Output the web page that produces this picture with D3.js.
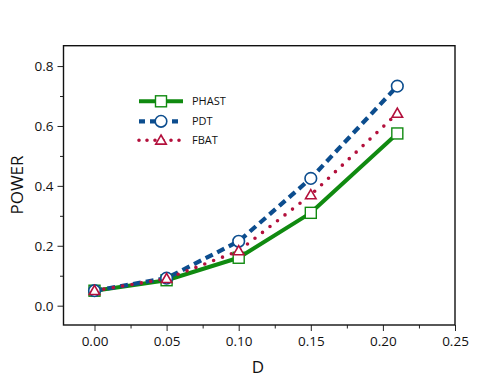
<!DOCTYPE html>
<html><head><meta charset="utf-8">
<script src="https://cdn.jsdelivr.net/npm/d3@7"></script>
<style>body{margin:0;background:#fff}svg{display:block}text{font-family:"Open Sans","Noto Sans",sans-serif}</style>
</head><body>
<script>
const xValues = [0.00, 0.05, 0.10, 0.15, 0.21];
const phast = [0.05, 0.085, 0.16, 0.31, 0.575];
const pdt = [0.05, 0.092, 0.215, 0.425, 0.733];
const fbat = [0.05, 0.09, 0.183, 0.37, 0.642];
const seriesNames = ["PHAST", "PDT", "FBAT"];
const xTicks = [0.00, 0.05, 0.10, 0.15, 0.20, 0.25];
const yTicks = [0.0, 0.2, 0.4, 0.6, 0.8];
const xMinor = [0.025, 0.075, 0.125, 0.175, 0.225];
const yMinor = [0.1, 0.3, 0.5, 0.7];

const W = 500, H = 386;
const L = 63.5, R = 455, T = 45.7, B = 325;
const svg = d3.select("body").append("svg").attr("width", W).attr("height", H);
const x = d3.scaleLinear().domain([-0.0215, 0.25]).range([L, R]);
const y = d3.scaleLinear().domain([-0.0645, 0.868]).range([B, T]);

const colors = {PHAST: "#108a10", PDT: "#0c4d8e", FBAT: "#b3103c"};

// axes
const yAxis = svg.append("g").attr("transform", `translate(${L},0)`)
  .call(d3.axisLeft(y).tickValues(yTicks).tickFormat(d3.format(".1f")).tickSize(6).tickPadding(4));
const yAxisMinor = svg.append("g").attr("transform", `translate(${L},0)`)
  .call(d3.axisLeft(y).tickValues(yMinor).tickFormat("").tickSize(3.5));
const xAxis = svg.append("g").attr("transform", `translate(0,${B})`)
  .call(d3.axisBottom(x).tickValues(xTicks).tickFormat(d3.format(".2f")).tickSize(6).tickPadding(5));
const xAxisMinor = svg.append("g").attr("transform", `translate(0,${B})`)
  .call(d3.axisBottom(x).tickValues(xMinor).tickFormat("").tickSize(3.5));
[yAxis, yAxisMinor, xAxis, xAxisMinor].forEach(g => {
  g.select(".domain").remove();
  g.selectAll("line").attr("stroke", "#222").attr("stroke-width", 1);
  g.selectAll("text").attr("font-size", 13.5).attr("fill", "#111")
   .style("font-family", '"Open Sans","Noto Sans",sans-serif');
});

// frame
svg.append("rect").attr("x", L).attr("y", T).attr("width", R - L).attr("height", B - T)
  .attr("fill", "none").attr("stroke", "#111").attr("stroke-width", 1.4);

// axis labels
svg.append("text").attr("x", 258).attr("y", 373).attr("text-anchor", "middle")
  .attr("font-size", 17).attr("fill", "#111").text("D");
svg.append("text").attr("transform", "translate(23,185) rotate(-90)").attr("text-anchor", "middle")
  .attr("font-size", 17).attr("fill", "#111").text("POWER");

const line = d3.line().x((d, i) => x(xValues[i])).y(d => y(d));
const data = {PHAST: phast, PDT: pdt, FBAT: fbat};
const styles = {
  PHAST: {w: 4, dash: null, cap: "butt"},
  PDT: {w: 4.2, dash: "8,5", cap: "butt"},
  FBAT: {w: 3.6, dash: "0,9.5", cap: "round"}
};

function marker(g, name, cx, cy) {
  const c = colors[name];
  if (name === "PHAST") {
    g.append("rect").attr("x", cx - 5.5).attr("y", cy - 5.5).attr("width", 11).attr("height", 11)
      .attr("fill", "#fff").attr("stroke", c).attr("stroke-width", 1.4);
  } else if (name === "PDT") {
    g.append("circle").attr("cx", cx).attr("cy", cy).attr("r", 5.8)
      .attr("fill", "#fff").attr("stroke", c).attr("stroke-width", 1.6);
  } else {
    const tri = d3.symbol().type(d3.symbolTriangle).size(48);
    g.append("path").attr("d", tri()).attr("transform", `translate(${cx},${cy + 0.8})`)
      .attr("fill", "#fff").attr("stroke", c).attr("stroke-width", 1.6);
  }
}

// draw order: lines, then markers
["PHAST", "PDT", "FBAT"].forEach(n => {
  const s = styles[n];
  svg.append("path").datum(data[n]).attr("d", line).attr("fill", "none")
    .attr("stroke", colors[n]).attr("stroke-width", s.w)
    .attr("stroke-dasharray", s.dash).attr("stroke-linecap", s.cap).attr("stroke-linejoin", "round");
});
["PHAST", "PDT", "FBAT"].forEach(n => {
  const g = svg.append("g");
  data[n].forEach((v, i) => marker(g, n, x(xValues[i]), y(v)));
});

// legend
const legY = [101.3, 121.3, 140.3];
seriesNames.forEach((n, i) => {
  const s = styles[n];
  const g = svg.append("g");
  g.append("line").attr("x1", 139).attr("x2", 183).attr("y1", legY[i]).attr("y2", legY[i])
    .attr("stroke", colors[n]).attr("stroke-width", s.w)
    .attr("stroke-dasharray", n === "PDT" ? "6,5" : (n === "FBAT" ? "0,8" : null))
    .attr("stroke-linecap", s.cap);
  marker(g, n, 161, legY[i]);
  g.append("text").attr("x", 192).attr("y", legY[i] + 4).attr("font-size", 11)
    .attr("fill", "#111").text(n);
});
</script>
</body></html>
